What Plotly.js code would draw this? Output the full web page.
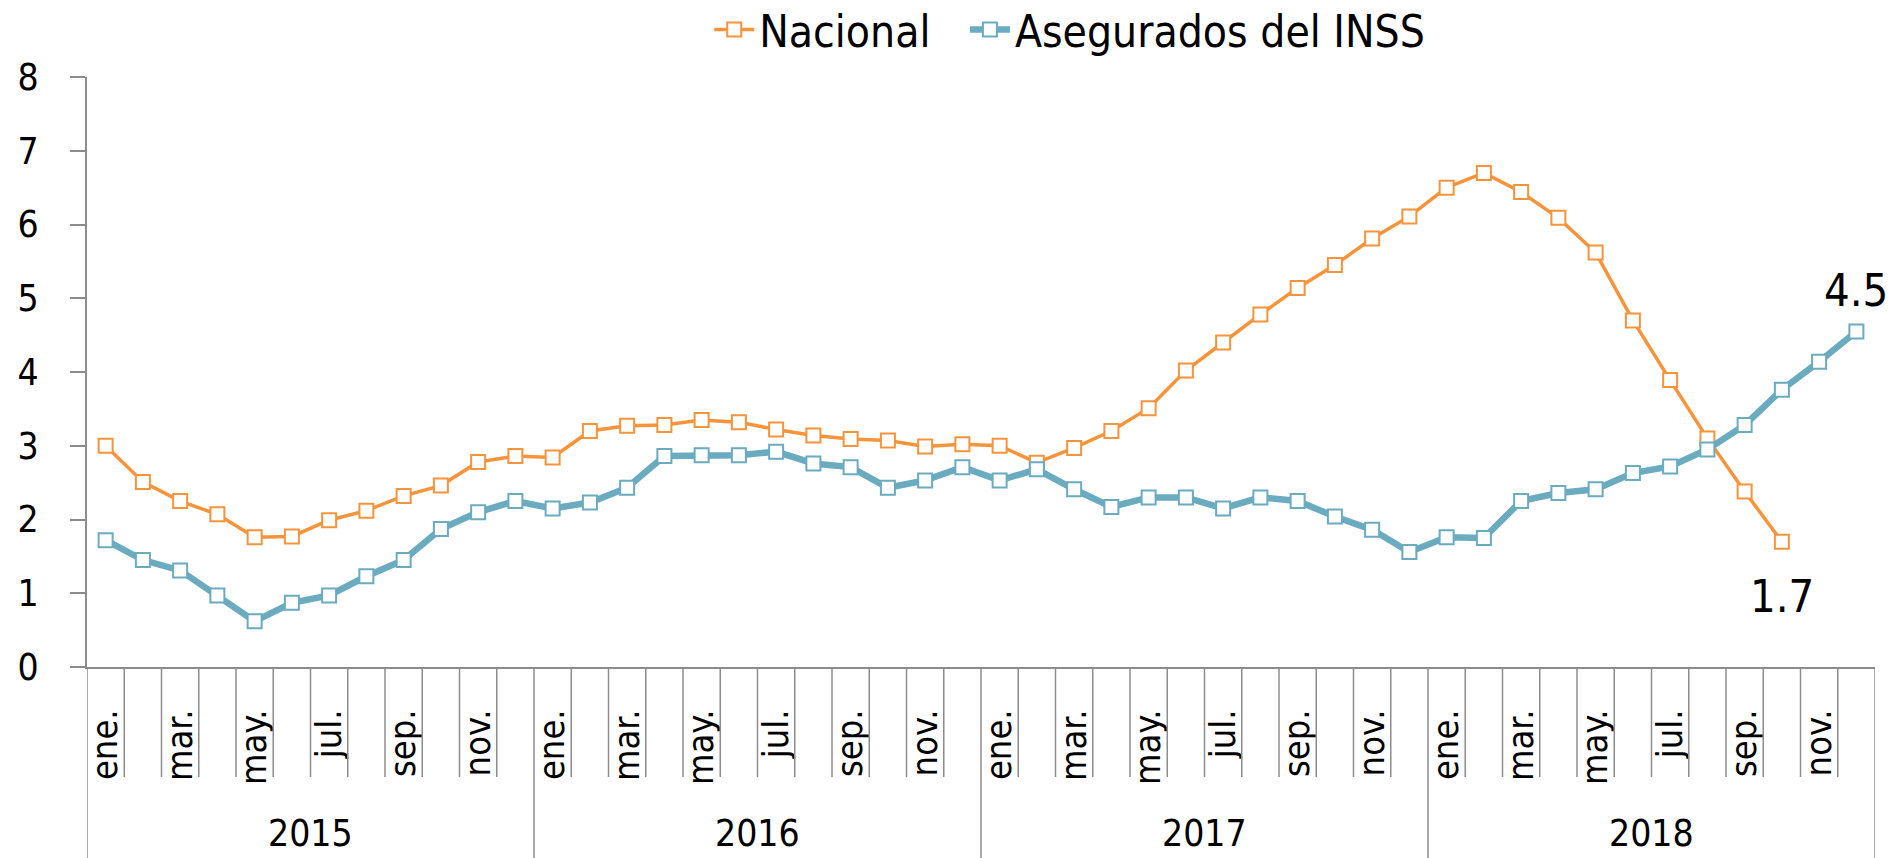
<!DOCTYPE html>
<html>
<head>
<meta charset="utf-8">
<script src="https://cdn.plot.ly/plotly-3.0.1.min.js"></script>
<style>
  html, body { margin: 0; padding: 0; background: #ffffff; }
  #chart { width: 1899px; height: 858px; }
</style>
</head>
<body>
<div id="chart"></div>
<script>
// ---- data ----
const years = ["2015", "2016", "2017", "2018"];
const monthNames = ["ene.", "feb.", "mar.", "abr.", "may.", "jun.", "jul.", "ago.", "sep.", "oct.", "nov.", "dic."];
const shownMonths = ["ene.", "mar.", "may.", "jul.", "sep.", "nov."];

const nacional = [
  3.00, 2.51, 2.25, 2.07, 1.76, 1.77, 1.99, 2.12, 2.32, 2.46, 2.78, 2.86,
  2.84, 3.20, 3.27, 3.28, 3.35, 3.32, 3.22, 3.14, 3.09, 3.07, 2.99, 3.02,
  3.00, 2.77, 2.97, 3.20, 3.51, 4.02, 4.40, 4.78, 5.14, 5.45, 5.81, 6.11,
  6.50, 6.70, 6.44, 6.09, 5.62, 4.70, 3.89, 3.10, 2.38, 1.70
];
const asegurados = [
  1.72, 1.45, 1.31, 0.97, 0.62, 0.87, 0.97, 1.23, 1.45, 1.87, 2.10, 2.25,
  2.15, 2.23, 2.43, 2.86, 2.87, 2.87, 2.92, 2.76, 2.71, 2.43, 2.53, 2.71,
  2.53, 2.68, 2.41, 2.17, 2.30, 2.30, 2.15, 2.30, 2.25, 2.04, 1.86, 1.56,
  1.76, 1.75, 2.25, 2.36, 2.41, 2.63, 2.72, 2.95, 3.28, 3.76, 4.14, 4.55
];
const labelNacional = "1.7";
const labelAsegurados = "4.5";

// ---- build ----
const nMonths = years.length * 12;
const xs = [];
for (let i = 0; i < nMonths; i++) xs.push(i);

const tickvals = [], ticktext = [];
for (let i = 0; i < nMonths; i++) {
  const m = monthNames[i % 12];
  if (shownMonths.includes(m)) { tickvals.push(i); ticktext.push(m); }
}

const ORANGE = "#F7943B";
const BLUE = "#6AABC0";
const GRAY = "#8C8C8C";
const NARROW = "'Liberation Sans Narrow', 'DejaVu Sans Condensed', 'Arial Narrow', sans-serif";

const traces = [
  {
    x: xs.slice(0, nacional.length), y: nacional, name: "Nacional",
    type: "scatter", mode: "lines+markers", legend: "legend",
    line: { color: ORANGE, width: 3.5 },
    marker: { symbol: "square", size: 14, color: "#ffffff", line: { color: ORANGE, width: 2 } }
  },
  {
    x: xs.slice(0, asegurados.length), y: asegurados, name: "Asegurados del INSS",
    type: "scatter", mode: "lines+markers", legend: "legend2",
    line: { color: BLUE, width: 6.5 },
    marker: { symbol: "square", size: 14, color: "#ffffff", line: { color: BLUE, width: 2 } }
  }
];

const plotH = 590;
const shapes = [];
for (let k = 0; k <= nMonths; k++) {
  const isYear = (k % 12 === 0);
  shapes.push({
    type: "line", xref: "x", yref: "paper",
    x0: k - 0.5, x1: k - 0.5, y0: 0, y1: isYear ? -191 / plotH : -110 / plotH,
    line: { color: GRAY, width: 1.5 }
  });
}

const annotations = years.map((yr, j) => ({
  xref: "x", yref: "paper", x: j * 12 + 5.5, y: -166 / plotH,
  text: yr, showarrow: false, xanchor: "center", yanchor: "middle",
  font: { family: NARROW, size: 37, color: "#000000" }
}));
annotations.push({
  xref: "x", yref: "y", x: asegurados.length - 1, y: asegurados[asegurados.length - 1],
  text: labelAsegurados, showarrow: false, yshift: 41,
  font: { family: NARROW, size: 45, color: "#000000" }
});
annotations.push({
  xref: "x", yref: "y", x: nacional.length - 1, y: nacional[nacional.length - 1],
  text: labelNacional, showarrow: false, yshift: -55,
  font: { family: NARROW, size: 45, color: "#000000" }
});

const legendBase = {
  orientation: "h", xanchor: "left", y: 1 + 47 / plotH, yanchor: "middle",
  font: { family: NARROW, size: 44, color: "#000000" },
  itemwidth: 40, bgcolor: "rgba(0,0,0,0)"
};

const layout = {
  width: 1899, height: 858,
  margin: { l: 87, r: 24, t: 77, b: 191, autoexpand: false },
  paper_bgcolor: "#ffffff", plot_bgcolor: "#ffffff",
  showlegend: true,
  legend: Object.assign({}, legendBase, { x: 0.348 }),
  legend2: Object.assign({}, legendBase, { x: 0.491 }),
  xaxis: {
    range: [-0.5, nMonths - 0.5], showgrid: false, zeroline: false,
    showline: true, linecolor: GRAY, linewidth: 2,
    tickmode: "array", tickvals: tickvals, ticktext: ticktext, tickangle: -90,
    ticks: "", ticklabelstandoff: 26,
    tickfont: { family: NARROW, size: 36, color: "#000000" }
  },
  yaxis: {
    range: [0, 8], dtick: 1, showgrid: false, zeroline: false,
    showline: true, linecolor: GRAY, linewidth: 2,
    ticks: "outside", ticklen: 15, tickwidth: 2, tickcolor: GRAY,
    ticklabelstandoff: 24,
    tickfont: { family: NARROW, size: 37, color: "#000000" }
  },
  shapes: shapes,
  annotations: annotations
};

Plotly.newPlot("chart", traces, layout, { displayModeBar: false, staticPlot: true });
</script>
</body>
</html>
